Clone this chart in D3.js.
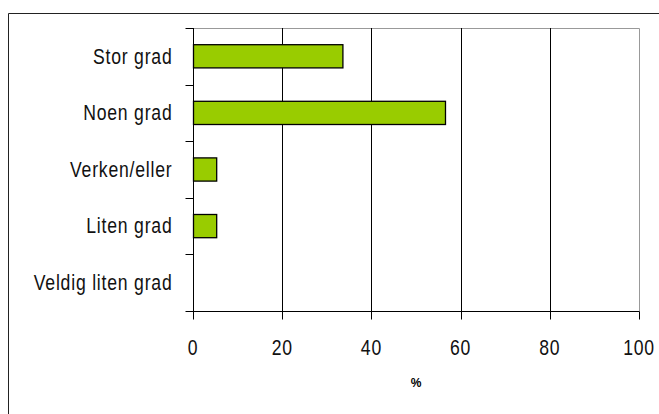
<!DOCTYPE html>
<html><head><meta charset="utf-8">
<script src="https://cdn.jsdelivr.net/npm/d3@7"></script>
<style>body{margin:0;background:#fff}svg{display:block}</style>
</head><body>
<svg id="c" width="659" height="414"></svg>
<script>
const categories = ["Stor grad","Noen grad","Verken/eller","Liten grad","Veldig liten grad"];
const values = [33.5, 56.5, 5.2, 5.2, 0];
const xTicks = [0,20,40,60,80,100];
const axisTitle = "%";

const svg = d3.select("#c");
const font = "'Liberation Sans',Arial,sans-serif";
const SX = 0.8, FS = 22, LS = 1;
// outer frame
svg.append("path").attr("d","M8.5,420 V13.5 H670").attr("fill","none").attr("stroke","#222").attr("stroke-width",1);

const L=193, R=639, T=28, B=311;
const x = d3.scaleLinear().domain([0,100]).range([L,R]);
const y = d3.scaleBand().domain(categories).range([T,B]).paddingInner(0.59).paddingOuter(0.295);
const yb = d3.scaleBand().domain(categories).range([T,B]);

// plot frame top/right gray
svg.append("path").attr("d",`M${L},${T+0.5} H${R+0.5} V${B}`).attr("fill","none").attr("stroke","#999").attr("stroke-width",1);
// gridlines
svg.append("g").selectAll("line").data(xTicks.filter(t=>t>0&&t<100)).join("line")
  .attr("x1",d=>Math.round(x(d))+0.5).attr("x2",d=>Math.round(x(d))+0.5)
  .attr("y1",T).attr("y2",B).attr("stroke","#000").attr("stroke-width",1);

// bars
svg.append("g").selectAll("rect").data(categories.map((c,i)=>({c,v:values[i]})).filter(d=>d.v>0)).join("rect")
  .attr("x",x(0)+0.5).attr("y",d=>y(d.c)).attr("width",d=>x(d.v)-x(0)).attr("height",y.bandwidth())
  .attr("fill","#99CC00").attr("stroke","#000").attr("stroke-width",1.3);

// y axis
const ya = svg.append("g").attr("transform",`translate(${L+0.5},0)`);
ya.append("line").attr("y1",T).attr("y2",B).attr("stroke","#000");
const yTickPos = categories.map(c=>yb(c)).concat([B]);
ya.selectAll("line.t").data(yTickPos).join("line").attr("class","t")
  .attr("x1",-8).attr("x2",0).attr("y1",d=>Math.round(d)+0.5).attr("y2",d=>Math.round(d)+0.5).attr("stroke","#000");
ya.selectAll("text").data(categories).join("text")
  .attr("transform",d=>`translate(-21,${yb(d)+yb.bandwidth()/2 - 0.5}) scale(${SX},1)`).attr("dy","0.35em")
  .attr("letter-spacing",LS)
  .attr("text-anchor","end").attr("font-family",font).attr("font-size",FS).attr("fill","#111").text(d=>d);

// x axis
const xa = svg.append("g").attr("transform",`translate(0,${B+0.5})`);
xa.append("line").attr("x1",L).attr("x2",R+0.5).attr("stroke","#000");
xa.selectAll("line.t").data(xTicks).join("line").attr("class","t")
  .attr("x1",d=>Math.round(x(d))+0.5).attr("x2",d=>Math.round(x(d))+0.5).attr("y1",0).attr("y2",8).attr("stroke","#000");
xa.selectAll("text").data(xTicks).join("text")
  .attr("transform",d=>`translate(${x(d)},36) scale(${SX},1)`).attr("dy","0.35em")
  .attr("letter-spacing",LS)
  .attr("text-anchor","middle").attr("font-family",font).attr("font-size",FS).attr("fill","#111").text(d=>d);

svg.append("text").attr("x",416).attr("y",383).attr("dy","0.35em").attr("text-anchor","middle")
  .attr("font-family",font).attr("font-weight","bold").attr("font-size",12).text(axisTitle);
</script>
</body></html>
